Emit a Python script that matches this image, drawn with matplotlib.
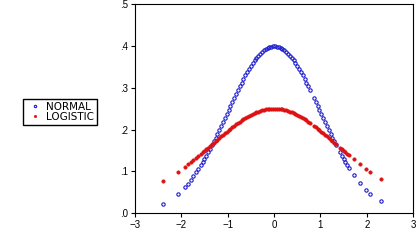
import matplotlib
matplotlib.use("Agg")
import matplotlib.pyplot as plt

plt.rcParams['font.family'] = ['Liberation Sans', 'DejaVu Sans']

# sample points (x) and the two density values
x = [-2.40, -2.07, -1.93, -1.86, -1.80, -1.74, -1.68, -1.63, -1.58, -1.54,
     -1.50, -1.46, -1.42, -1.38, -1.34, -1.30, -1.26, -1.22, -1.18, -1.14,
     -1.10, -1.06, -1.02, -0.98, -0.94, -0.90, -0.86, -0.82, -0.78, -0.74,
     -0.70, -0.66, -0.62, -0.58, -0.54, -0.50, -0.46, -0.42, -0.38, -0.34,
     -0.30, -0.26, -0.22, -0.18, -0.14, -0.10, -0.06, -0.02,
     0.02, 0.06, 0.10, 0.14, 0.18, 0.22, 0.26, 0.30, 0.34, 0.38,
     0.42, 0.46, 0.50, 0.54, 0.58, 0.62, 0.66, 0.70, 0.74, 0.78,
     0.86, 0.90, 0.94, 0.98, 1.02, 1.06, 1.10, 1.14, 1.18, 1.22,
     1.26, 1.30, 1.34, 1.42, 1.46, 1.50, 1.54, 1.58, 1.62, 1.72,
     1.85, 1.98, 2.08, 2.30]

normal = [0.0224, 0.0468, 0.0620, 0.0707, 0.0790, 0.0878, 0.0973, 0.1057, 0.1145, 0.1219,
          0.1295, 0.1374, 0.1456, 0.1539, 0.1626, 0.1714, 0.1804, 0.1895, 0.1989, 0.2083,
          0.2179, 0.2275, 0.2371, 0.2468, 0.2565, 0.2661, 0.2756, 0.2850, 0.2943, 0.3034,
          0.3123, 0.3209, 0.3292, 0.3372, 0.3448, 0.3521, 0.3589, 0.3653, 0.3712, 0.3765,
          0.3814, 0.3857, 0.3894, 0.3925, 0.3950, 0.3970, 0.3982, 0.3989,
          0.3989, 0.3982, 0.3970, 0.3950, 0.3925, 0.3894, 0.3857, 0.3814, 0.3765, 0.3712,
          0.3653, 0.3589, 0.3521, 0.3448, 0.3372, 0.3292, 0.3209, 0.3123, 0.3034, 0.2943,
          0.2756, 0.2661, 0.2565, 0.2468, 0.2371, 0.2275, 0.2179, 0.2083, 0.1989, 0.1895,
          0.1804, 0.1714, 0.1626, 0.1456, 0.1374, 0.1295, 0.1219, 0.1145, 0.1074, 0.0909,
          0.0721, 0.0562, 0.0459, 0.0283]

logistic = [0.0763, 0.0994, 0.1107, 0.1166, 0.1217, 0.1270, 0.1324, 0.1370, 0.1416, 0.1454,
            0.1492, 0.1529, 0.1568, 0.1606, 0.1644, 0.1683, 0.1721, 0.1760, 0.1798, 0.1836,
            0.1874, 0.1911, 0.1948, 0.1984, 0.2020, 0.2055, 0.2089, 0.2123, 0.2155, 0.2187,
            0.2217, 0.2246, 0.2274, 0.2301, 0.2326, 0.2350, 0.2372, 0.2393, 0.2412, 0.2429,
            0.2445, 0.2458, 0.2470, 0.2480, 0.2488, 0.2494, 0.2498, 0.2500,
            0.2500, 0.2498, 0.2494, 0.2488, 0.2480, 0.2470, 0.2458, 0.2445, 0.2429, 0.2412,
            0.2393, 0.2372, 0.2350, 0.2326, 0.2301, 0.2274, 0.2246, 0.2217, 0.2187, 0.2155,
            0.2089, 0.2055, 0.2020, 0.1984, 0.1948, 0.1911, 0.1874, 0.1836, 0.1798, 0.1760,
            0.1721, 0.1683, 0.1644, 0.1568, 0.1529, 0.1492, 0.1454, 0.1416, 0.1379, 0.1288,
            0.1174, 0.1066, 0.0986, 0.0828]

yticks = [0.0, 0.1, 0.2, 0.3, 0.4, 0.5]
ytick_labels = [".0", ".1", ".2", ".3", ".4", ".5"]
xticks = [-3, -2, -1, 0, 1, 2, 3]

fig = plt.figure(figsize=(4.19, 2.40), dpi=100)
ax = fig.add_axes([0.322, 0.112, 0.664, 0.871])

ax.plot(x, normal, linestyle="none", marker="o", markersize=2.4,
        markerfacecolor="none", markeredgecolor="#1a1acc", markeredgewidth=0.8,
        label="NORMAL")
ax.plot(x, logistic, linestyle="none", marker="o", markersize=2.4,
        markerfacecolor="#dd1111", markeredgecolor="#dd1111", markeredgewidth=0.5,
        label="LOGISTIC")

ax.set_xlim(-3, 3)
ax.set_ylim(0, 0.5)
ax.set_xticks(xticks)
ax.set_yticks(yticks)
ax.set_yticklabels(ytick_labels)
ax.tick_params(direction="out", length=3, width=0.8, labelsize=7, pad=2)
for s in ax.spines.values():
    s.set_linewidth(0.8)

fig.legend(loc="upper left", bbox_to_anchor=(0.054, 0.5875),
           prop={"family": "DejaVu Sans", "size": 7.5},
           frameon=True, fancybox=False, edgecolor="black", framealpha=1,
           handlelength=1.8, handletextpad=0.2, borderpad=0.25, labelspacing=0.05,
           borderaxespad=0, markerscale=0.7)

fig.savefig("out.png", dpi=100)
